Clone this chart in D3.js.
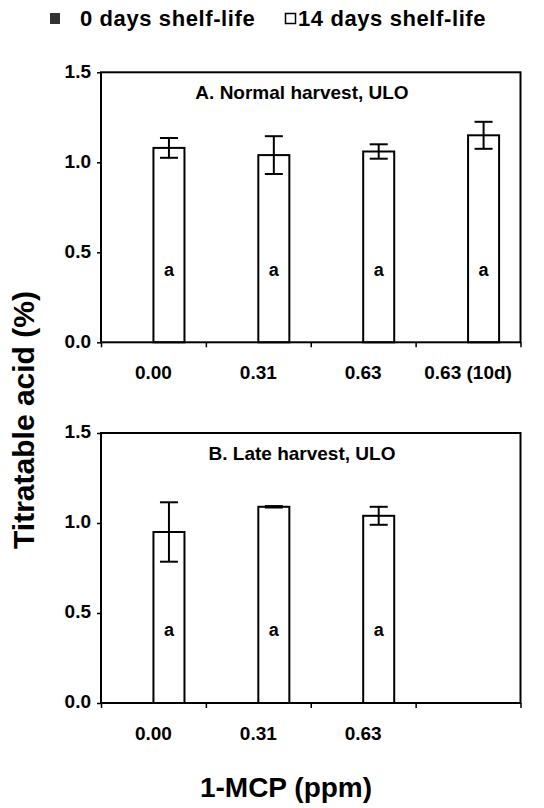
<!DOCTYPE html>
<html>
<head>
<meta charset="utf-8">
<script src="https://d3js.org/d3.v7.min.js"></script>
<style>
    body { margin: 0; background: #fff; }
    text { font-family: "Liberation Sans", Arial, sans-serif; font-weight: bold; fill: #000; }
</style>
</head>
<body>
<div id="chart"></div>
<script>
// values
var series = ["0 days shelf-life", "14 days shelf-life"];
var catsA = ["0.00", "0.31", "0.63", "0.63 (10d)"];
var catsB = ["0.00", "0.31", "0.63"];
var day0A = [null, null, null, null];
var day14A = [1.08, 1.04, 1.06, 1.15];
var errA = [0.055, 0.105, 0.04, 0.075];
var lettersA = ["a", "a", "a", "a"];
var day0B = [null, null, null];
var day14B = [0.95, 1.09, 1.04];
var errB = [0.165, 0.004, 0.05];
var lettersB = ["a", "a", "a"];
var yTicks = [0, 0.5, 1.0, 1.5];
var titleA = "A. Normal harvest, ULO";
var titleB = "B. Late harvest, ULO";

var width = 544, height = 808;
var left = 101, right = 520.5, panelH = 270;

var svg = d3.select("#chart")
    .append("svg")
    .attr("width", width)
    .attr("height", height);

function drawPanel(top, cats, d0, d14, err, letters, title) {
    var g = svg.append("g");

    // x scales: 4 slots in both panels
    var x = d3.scaleBand()
        .domain(d3.range(4))
        .range([left, right])
        .padding(0);
    var sub = d3.scaleBand()
        .domain(series)
        .range([0, x.bandwidth()])
        .paddingInner(0)
        .paddingOuter(0.69);
    var xt = d3.scaleLinear().domain([0, 4]).range([left, right]);

    var y = d3.scaleLinear()
        .domain([0, 1.5])
        .range([top + panelH, top]);

    // add the y Axis
    var ya = g.append("g")
        .attr("transform", "translate(" + left + ",0)")
        .call(d3.axisLeft(y).tickValues(yTicks).tickFormat(d3.format(".1f")).tickSize(4).tickPadding(6));
    ya.select(".domain").remove();
    ya.selectAll("line").attr("stroke-width", 1.5);
    ya.selectAll("text").attr("font-size", 19).attr("dy", "0.25em");

    // add the x Axis (ticks at band edges)
    var xa = g.append("g")
        .attr("transform", "translate(0," + (top + panelH) + ")")
        .call(d3.axisBottom(xt).tickValues(d3.range(5)).tickSize(5).tickFormat(""));
    xa.select(".domain").remove();
    xa.selectAll("line").attr("stroke-width", 1.5);

    g.selectAll(".xlab")
        .data(cats)
        .enter()
        .append("text")
        .attr("class", "xlab")
        .attr("x", function (d, i) { return x(i) + x.bandwidth() / 2; })
        .attr("y", top + panelH + 37)
        .attr("text-anchor", "middle")
        .attr("font-size", 19)
        .text(function (d) { return d; });

    // bars
    var rows = cats.map(function (c, i) {
        return [
            { s: series[0], i: i, v: d0[i] },
            { s: series[1], i: i, v: d14[i], e: err[i], l: letters[i] }
        ];
    });
    var flat = [].concat.apply([], rows).filter(function (d) { return d.v != null; });

    g.selectAll(".bar")
        .data(flat)
        .enter()
        .append("rect")
        .attr("class", "bar")
        .attr("x", function (d) { return x(d.i) + sub(d.s); })
        .attr("y", function (d) { return y(d.v); })
        .attr("width", sub.bandwidth())
        .attr("height", function (d) { return y(0) - y(d.v); })
        .attr("fill", function (d) { return d.s === series[0] ? "#333" : "#fff"; })
        .attr("stroke", "#000")
        .attr("stroke-width", 2);

    // error bars
    var eb = flat.filter(function (d) { return d.e != null; });
    var cx = function (d) { return x(d.i) + sub(d.s) + sub.bandwidth() / 2; };
    g.selectAll(".evert")
        .data(eb)
        .enter()
        .append("line")
        .attr("x1", cx).attr("x2", cx)
        .attr("y1", function (d) { return y(d.v - d.e); })
        .attr("y2", function (d) { return y(d.v + d.e); })
        .attr("stroke", "#000").attr("stroke-width", 2);
    [-1, 1].forEach(function (sgn) {
        g.selectAll(".ecap" + sgn)
            .data(eb)
            .enter()
            .append("line")
            .attr("x1", function (d) { return cx(d) - 9; })
            .attr("x2", function (d) { return cx(d) + 9; })
            .attr("y1", function (d) { return y(d.v + sgn * d.e); })
            .attr("y2", function (d) { return y(d.v + sgn * d.e); })
            .attr("stroke", "#000").attr("stroke-width", 2);
    });

    // significance letters
    g.selectAll(".let")
        .data(eb)
        .enter()
        .append("text")
        .attr("x", cx)
        .attr("y", y(0.37))
        .attr("text-anchor", "middle")
        .attr("font-size", 18)
        .text(function (d) { return d.l; });

    // frame
    g.append("rect")
        .attr("x", left).attr("y", top)
        .attr("width", right - left).attr("height", panelH)
        .attr("fill", "none")
        .attr("stroke", "#000")
        .attr("stroke-width", 2);

    // panel title
    g.append("text")
        .attr("x", 302)
        .attr("y", top + 27)
        .attr("text-anchor", "middle")
        .attr("font-size", 19)
        .text(title);
}

drawPanel(72.3, catsA, day0A, day14A, errA, lettersA, titleA);
drawPanel(433, catsB, day0B, day14B, errB, lettersB, titleB);

// legend
svg.append("rect")
    .attr("x", 50).attr("y", 13).attr("width", 10).attr("height", 11)
    .attr("fill", "#333");
svg.append("text")
    .attr("x", 80).attr("y", 26)
    .attr("font-size", 22)
    .attr("letter-spacing", 0.6)
    .text(series[0]);
svg.append("rect")
    .attr("x", 285.5).attr("y", 13.5).attr("width", 10).attr("height", 10)
    .attr("fill", "#fff").attr("stroke", "#000").attr("stroke-width", 1.5);
svg.append("text")
    .attr("x", 298).attr("y", 26)
    .attr("font-size", 22)
    .attr("letter-spacing", 0.6)
    .text(series[1]);

// axis titles
svg.append("text")
    .attr("transform", "translate(34,420) rotate(-90)")
    .attr("text-anchor", "middle")
    .attr("font-size", 30)
    .text("Titratable acid (%)");
svg.append("text")
    .attr("x", 286)
    .attr("y", 797)
    .attr("text-anchor", "middle")
    .attr("font-size", 28)
    .text("1-MCP (ppm)");
</script>
</body>
</html>
